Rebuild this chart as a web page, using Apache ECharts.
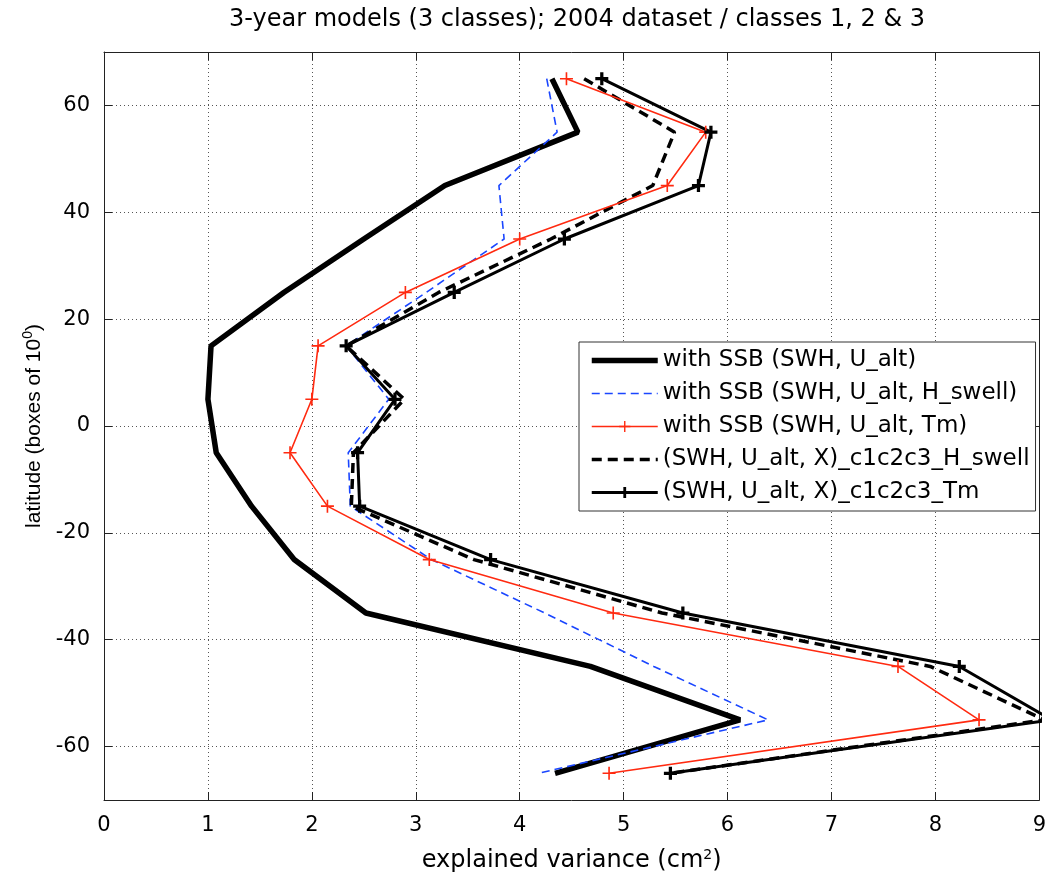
<!DOCTYPE html>
<html>
<head>
<meta charset="utf-8">
<title>3-year models</title>
<script src="https://cdn.jsdelivr.net/npm/echarts@6/dist/echarts.min.js"></script>
<style>
  html, body { margin: 0; padding: 0; background: #fff; }
  #chart { width: 1049px; height: 884px; }
</style>
</head>
<body>
<div id="chart"></div>
<script>
// latitude boxes (centres)
const latitudes = [65, 55, 45, 35, 25, 15, 5, -5, -15, -25, -35, -45, -55, -65];

// explained variance (cm^2), one value per latitude box
const ssbBase      = [4.31, 4.56, 3.28, 2.50, 1.73, 1.03, 1.00, 1.08, 1.42, 1.83, 2.52, 4.68, 6.12, 4.34];
const ssbHswell    = [4.26, 4.36, 3.80, 3.85, 3.10, 2.33, 2.74, 2.35, 2.37, 3.15, 4.24, 5.29, 6.39, 4.18];
const ssbTm        = [4.45, 5.79, 5.42, 4.00, 2.90, 2.06, 2.00, 1.79, 2.15, 3.13, 4.90, 7.64, 8.42, 4.86];
const c1c2c3Hswell = [4.62, 5.49, 5.28, 4.30, 3.22, 2.33, 2.89, 2.40, 2.38, 3.56, 5.37, 7.95, 9.05, 5.45];
const c1c2c3Tm     = [4.79, 5.84, 5.72, 4.43, 3.37, 2.33, 2.80, 2.44, 2.46, 3.72, 5.57, 8.23, 9.12, 5.45];

const seriesNames = [
  'with SSB (SWH, U_alt)',
  'with SSB (SWH, U_alt, H_swell)',
  'with SSB (SWH, U_alt, Tm)',
  '(SWH, U_alt, X)_c1c2c3_H_swell',
  '(SWH, U_alt, X)_c1c2c3_Tm'
];

const yTicks = [-60, -40, -20, 0, 20, 40, 60];

const FONT = 'DejaVu Sans, Liberation Sans, Arial, sans-serif';
const FONT_NARROW = 'Liberation Sans, Arial, Helvetica, sans-serif';
const plusThin = 'path://M0,7H7V0H9V7H16V9H9V16H7V9H0Z';
const plusThick = 'path://M0,6H6V0H10V6H16V10H10V16H6V10H0Z';

const RED = '#ff2a10';
const BLUE = '#1a46ff';

const pairs = (xs) => xs.map((v, i) => [v, latitudes[i]]);

const chart = echarts.init(document.getElementById('chart'));

const axisLineStyle = { color: '#222', width: 1 };
const supStyle = { sup: { fontSize: 14, verticalAlign: 'top', padding: [0, 0, 12, 0] } };

const option = {
  backgroundColor: '#fff',
  animation: false,
  textStyle: { fontFamily: FONT },
  title: {
    text: '3-year models (3 classes); 2004 dataset / classes 1, 2 & 3',
    left: 572,
    textAlign: 'center',
    top: 3,
    textStyle: { fontFamily: FONT, fontSize: 24, fontWeight: 'normal', color: '#000' }
  },
  grid: { left: 104, right: 3, top: 52, bottom: 84 },
  legend: {
    orient: 'vertical',
    left: 579,
    top: 342,
    padding: [7, 6, 7, 10],
    itemWidth: 66,
    itemHeight: 14,
    itemGap: 10,
    backgroundColor: '#fff',
    borderColor: '#333',
    borderWidth: 1,
    textStyle: { fontFamily: FONT, fontSize: 23, color: '#000' },
    data: [
      { name: seriesNames[0], itemStyle: { opacity: 0 }, lineStyle: { width: 5.5 } },
      { name: seriesNames[1], itemStyle: { opacity: 0 }, lineStyle: { width: 1.6, type: [8, 5] } },
      { name: seriesNames[2], lineStyle: { width: 1.6 } },
      { name: seriesNames[3], itemStyle: { opacity: 0 }, lineStyle: { width: 3.5, type: [10, 6] } },
      { name: seriesNames[4], lineStyle: { width: 3 } }
    ]
  },
  xAxis: [
    {
      type: 'value',
      min: 0, max: 9, interval: 1,
      name: 'explained variance (cm{sup|2})',
      nameLocation: 'middle',
      nameGap: 48,
      nameTextStyle: { fontFamily: FONT, fontSize: 24, color: '#000', rich: supStyle },
      axisLine: { show: true, onZero: false, lineStyle: axisLineStyle },
      axisTick: { show: true, inside: true, length: 8, lineStyle: axisLineStyle },
      axisLabel: { fontFamily: FONT, fontSize: 21, color: '#000', margin: 15 },
      splitLine: { show: true, lineStyle: { color: '#555', width: 1, type: [1, 3] } }
    },
    {
      type: 'value',
      position: 'top',
      min: 0, max: 9, interval: 1,
      axisLine: { show: true, onZero: false, lineStyle: axisLineStyle },
      axisTick: { show: true, inside: true, length: 8, lineStyle: axisLineStyle },
      axisLabel: { show: false },
      splitLine: { show: false }
    }
  ],
  yAxis: [
    {
      type: 'value',
      min: -70, max: 70,
      name: 'latitude (boxes of 10{sup|0})',
      nameLocation: 'middle',
      nameGap: 56,
      nameTextStyle: { fontFamily: FONT_NARROW, fontSize: 21, color: '#000', rich: supStyle },
      axisLine: { show: true, onZero: false, lineStyle: axisLineStyle },
      axisTick: { show: true, inside: true, length: 8, lineStyle: axisLineStyle, customValues: yTicks },
      axisLabel: { fontFamily: FONT, fontSize: 21, color: '#000', margin: 14, customValues: yTicks },
      splitLine: { show: true, lineStyle: { color: '#555', width: 1, type: [1, 3] } }
    },
    {
      type: 'value',
      position: 'right',
      min: -70, max: 70,
      axisLine: { show: true, onZero: false, lineStyle: axisLineStyle },
      axisTick: { show: true, inside: true, length: 8, lineStyle: axisLineStyle, customValues: yTicks },
      axisLabel: { show: false, customValues: yTicks },
      splitLine: { show: false }
    }
  ],
  series: [
    {
      name: seriesNames[0],
      type: 'line',
      data: pairs(ssbBase),
      symbol: 'none',
      lineStyle: { color: '#000', width: 5.5 },
      itemStyle: { color: '#000' },
      z: 3
    },
    {
      name: seriesNames[1],
      type: 'line',
      data: pairs(ssbHswell),
      symbol: 'none',
      lineStyle: { color: BLUE, width: 1.6, type: [8, 5] },
      itemStyle: { color: BLUE },
      z: 4
    },
    {
      name: seriesNames[2],
      type: 'line',
      data: pairs(ssbTm),
      symbol: plusThin,
      symbolSize: 13,
      showAllSymbol: true,
      lineStyle: { color: RED, width: 1.6 },
      itemStyle: { color: RED },
      z: 5
    },
    {
      name: seriesNames[3],
      type: 'line',
      data: pairs(c1c2c3Hswell),
      symbol: 'none',
      lineStyle: { color: '#000', width: 3.5, type: [10, 6] },
      itemStyle: { color: '#000' },
      z: 4
    },
    {
      name: seriesNames[4],
      type: 'line',
      data: pairs(c1c2c3Tm),
      symbol: plusThick,
      symbolSize: 13,
      showAllSymbol: true,
      lineStyle: { color: '#000', width: 3 },
      itemStyle: { color: '#000' },
      z: 5
    }
  ]
};

chart.setOption(option);
window.addEventListener('resize', () => chart.resize());
</script>
</body>
</html>
